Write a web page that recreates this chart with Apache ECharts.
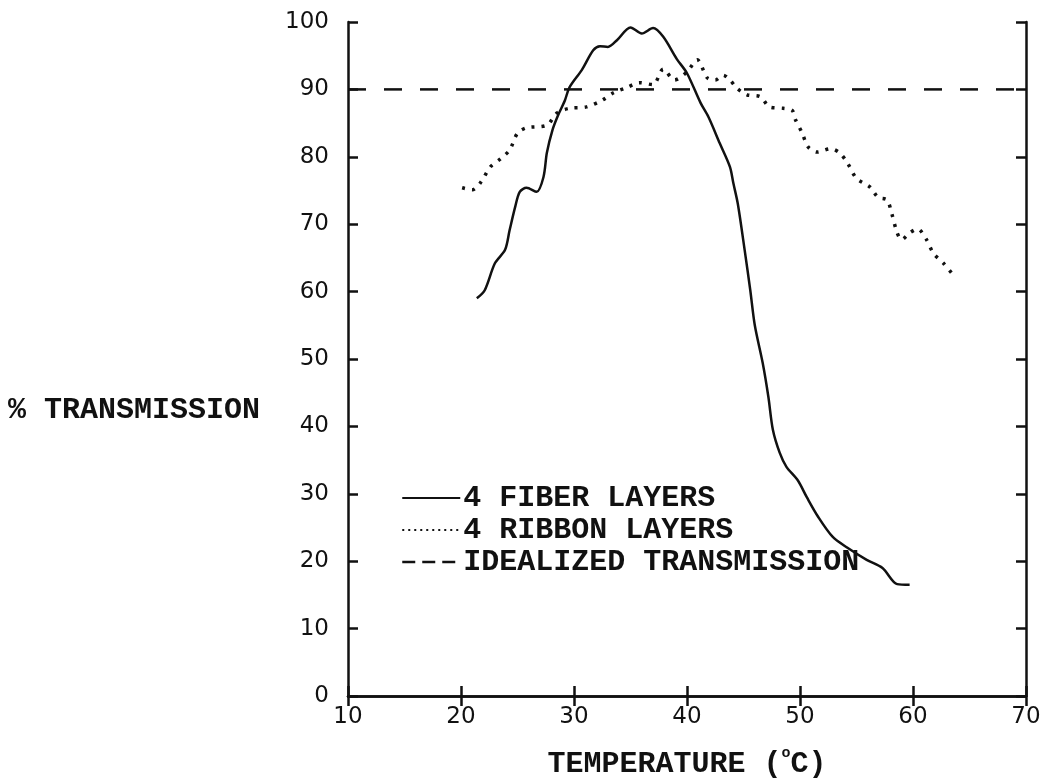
<!DOCTYPE html>
<html>
<head>
<meta charset="utf-8">
<script src="https://cdn.jsdelivr.net/npm/echarts@6/dist/echarts.min.js"></script>
<style>
html,body{margin:0;padding:0;background:#fff;}
#c{width:1042px;height:782px;}
</style>
</head>
<body>
<div id="c"></div>
<script>
var fiberX = [21.4,22.1,23.0,23.9,24.3,24.8,25.2,25.8,26.7,27.3,27.6,28.1,28.6,29.2,29.6,30.7,31.7,32.3,33.0,33.8,35.0,36.0,37.0,37.9,39.1,40.0,41.2,41.9,42.9,43.8,44.1,44.5,45.1,45.6,46.0,46.7,47.2,47.6,48.2,48.8,49.8,50.6,51.6,52.9,54.2,55.9,57.3,58.6,59.7];
var fiberY = [59.0,60.2,64.2,66.2,69.1,72.6,74.8,75.4,74.8,77.0,80.6,84.0,86.2,88.4,90.3,92.9,95.8,96.4,96.3,97.3,99.2,98.3,99.1,97.8,94.5,92.4,88.0,85.9,82.0,78.5,76.1,73.0,66.2,60.2,55.0,49.4,44.4,39.5,36.1,34.0,32.0,29.5,26.6,23.6,22.0,20.2,19.0,16.6,16.5];
var ribbonX = [20.1,21.0,21.7,22.6,23.5,24.3,25.0,25.8,27.6,28.5,29.6,31.1,32.5,33.5,34.7,35.8,37.0,37.9,38.9,40.0,40.9,41.8,42.5,43.2,43.8,44.4,45.3,46.5,47.3,48.5,49.3,49.6,50.2,50.7,51.5,52.7,53.5,54.2,55.0,56.2,56.9,57.7,58.1,58.6,59.0,59.7,60.4,61.2,61.8,62.7,63.5];
var ribbonY = [75.4,75.1,76.1,78.5,79.7,81.0,83.5,84.3,84.7,86.5,87.2,87.4,88.4,89.5,90.3,91.0,90.7,93.0,91.4,92.6,94.4,91.7,91.4,92.1,91.4,90.2,89.2,88.9,87.4,87.2,86.9,85.5,83.5,81.5,80.7,81.2,80.6,79.1,76.8,75.5,74.0,73.6,71.7,68.7,67.7,68.7,69.3,67.7,65.7,64.2,62.6];
var idealX = [10, 70];
var idealY = [90, 90];
var xTicks = [10, 20, 30, 40, 50, 60, 70];
var yTicks = [0, 10, 20, 30, 40, 50, 60, 70, 80, 90, 100];
var seriesNames = ['4 FIBER LAYERS', '4 RIBBON LAYERS', 'IDEALIZED TRANSMISSION'];

function pairs(xs, ys) { return xs.map(function (x, i) { return [x, ys[i]]; }); }

var ink = '#111';
var monoFont = '"Liberation Mono", "DejaVu Sans Mono", monospace';
var axLine = { show: true, lineStyle: { color: ink, width: 2.5 } };
var tick = { show: true, inside: true, length: 10, lineStyle: { color: ink, width: 2.5 } };

var chart = echarts.init(document.getElementById('c'));
chart.setOption({
  animation: false,
  backgroundColor: '#fff',
  grid: { left: 348, right: 16, top: 22, bottom: 86, outerBoundsMode: 'none', containLabel: false },
  xAxis: [{
    type: 'value', min: xTicks[0], max: xTicks[xTicks.length - 1], interval: 10,
    position: 'bottom',
    axisLine: axLine, axisTick: tick, splitLine: { show: false },
    axisLabel: { color: ink, fontSize: 23, fontFamily: '"DejaVu Sans", sans-serif', margin: 10 },
    name: '{a|TEMPERATURE (}{s|o}{a|C)}',
    nameLocation: 'middle', nameGap: 42,
    nameTextStyle: {
      rich: {
        a: { fontFamily: monoFont, fontWeight: 'bold', fontSize: 30, color: ink, height: 30 },
        s: { fontFamily: monoFont, fontWeight: 'bold', fontSize: 15, color: ink, height: 30, padding: [0, 0, 22, 0] }
      }
    }
  }, {
    type: 'value', min: xTicks[0], max: xTicks[xTicks.length - 1], interval: 10,
    position: 'top',
    axisLine: axLine, axisTick: tick, splitLine: { show: false },
    axisLabel: { show: false }
  }],
  yAxis: [{
    type: 'value', min: yTicks[0], max: yTicks[yTicks.length - 1], interval: 10,
    position: 'left',
    axisLine: axLine, axisTick: tick, splitLine: { show: false },
    axisLabel: { color: ink, fontSize: 23, fontFamily: '"DejaVu Sans", sans-serif', margin: 19 }
  }, {
    type: 'value', min: yTicks[0], max: yTicks[yTicks.length - 1], interval: 10,
    position: 'right',
    axisLine: axLine, axisTick: tick, splitLine: { show: false },
    axisLabel: { show: false }
  }],
  legend: {
    orient: 'vertical', left: 396, top: 478,
    itemWidth: 58, itemHeight: 14, itemGap: 2,
    data: [
      { name: seriesNames[0] },
      { name: seriesNames[1], lineStyle: { type: [2, 4], width: 2 } },
      { name: seriesNames[2], lineStyle: { type: [13, 7], width: 2.5 } }
    ],
    itemStyle: { opacity: 0 },
    textStyle: { fontFamily: monoFont, fontWeight: 'bold', fontSize: 30, color: ink, padding: [0, 0, 0, -2] }
  },
  graphic: [{
    type: 'text', left: 8, top: 395,
    style: { text: '% TRANSMISSION', font: 'bold 30px ' + monoFont, fill: ink }
  }],
  series: [{
    name: seriesNames[0], type: 'line', symbol: 'none', smooth: 0.3,
    data: pairs(fiberX, fiberY),
    lineStyle: { color: ink, width: 2.5 }, itemStyle: { color: ink }
  }, {
    name: seriesNames[1], type: 'line', symbol: 'none', smooth: 0.3,
    data: pairs(ribbonX, ribbonY),
    lineStyle: { color: ink, width: 3.5, type: [3, 7] }, itemStyle: { color: ink }
  }, {
    name: seriesNames[2], type: 'line', symbol: 'none',
    data: pairs(idealX, idealY),
    lineStyle: { color: ink, width: 2.5, type: [18, 18] }, itemStyle: { color: ink }
  }]
});
</script>
</body>
</html>
